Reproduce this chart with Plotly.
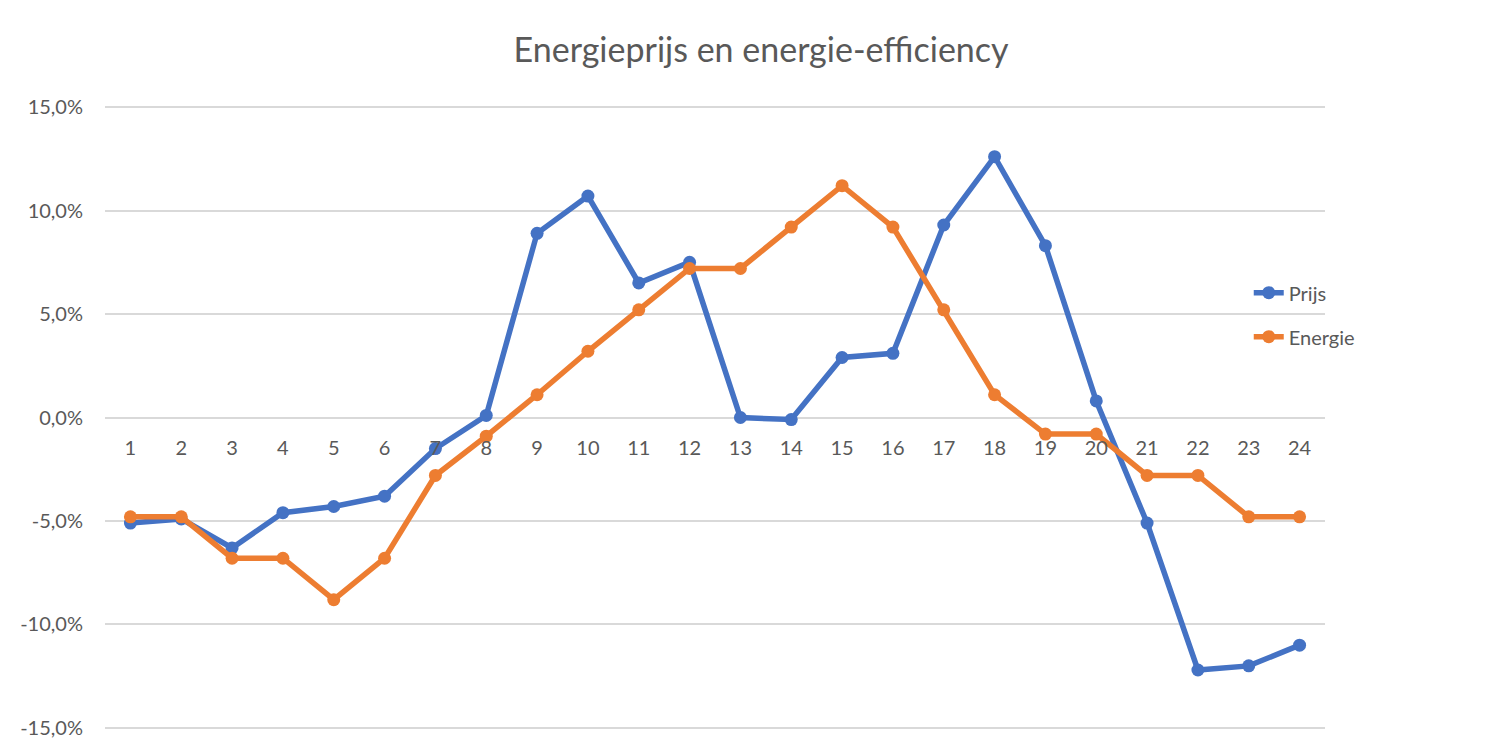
import plotly.graph_objects as go

periods = list(range(1, 25))
prijs = [-5.1, -4.9, -6.3, -4.6, -4.3, -3.8, -1.5, 0.1, 8.9, 10.7, 6.5, 7.5,
         0.0, -0.1, 2.9, 3.1, 9.3, 12.6, 8.3, 0.8, -5.1, -12.2, -12.0, -11.0]
energie = [-4.8, -4.8, -6.8, -6.8, -8.8, -6.8, -2.8, -0.9, 1.1, 3.2, 5.2, 7.2,
           7.2, 9.2, 11.2, 9.2, 5.2, 1.1, -0.8, -0.8, -2.8, -2.8, -4.8, -4.8]
y_ticks = [-15, -10, -5, 0, 5, 10, 15]
y_ticktext = ["-15,0%", "-10,0%", "-5,0%", "0,0%", "5,0%", "10,0%", "15,0%"]

BLUE = "#4472C4"
ORANGE = "#ED7D31"
GREY = "#595959"
FONT = "Lato, Open Sans, sans-serif"

fig = go.Figure()
fig.add_trace(go.Scatter(x=periods, y=prijs, name="Prijs", mode="lines+markers",
                         line=dict(color=BLUE, width=5.5), marker=dict(size=13, color=BLUE),
                         legendgroup="a"))
fig.add_trace(go.Scatter(x=periods, y=energie, name="Energie", mode="lines+markers",
                         line=dict(color=ORANGE, width=5.5), marker=dict(size=13, color=ORANGE),
                         legendgroup="b"))

fig.update_layout(
    width=1502, height=756,
    margin=dict(l=97, r=185, t=98, b=35, autoexpand=False),
    paper_bgcolor="white", plot_bgcolor="white",
    font=dict(family=FONT, color=GREY, size=20),
    title=dict(text="Energieprijs en energie-efficiency", x=0.5014, xanchor="center",
               y=0.944, yanchor="middle", font=dict(size=34, color=GREY, family=FONT)),
    legend=dict(x=0.9375, xanchor="left", y=0.665, yanchor="middle",
                font=dict(size=20, color=GREY), tracegroupgap=15,
                bgcolor="rgba(0,0,0,0)"),
    showlegend=True,
)
fig.update_xaxes(range=[0.5, 24.5], tickvals=periods, ticktext=[str(p) for p in periods],
                 showgrid=False, zeroline=False, showline=False, ticks="",
                 anchor="free", position=0.5, ticklabelstandoff=16, automargin=False,
                 tickfont=dict(size=20, color=GREY))
fig.update_yaxes(range=[-15.05, 15.05], tickvals=y_ticks, ticktext=y_ticktext,
                 showgrid=True, gridcolor="#D9D9D9", gridwidth=1.5,
                 zeroline=True, zerolinecolor="#D9D9D9", zerolinewidth=1.5,
                 showline=False, ticks="", ticklabelstandoff=21, automargin=False,
                 tickfont=dict(size=20, color=GREY))

fig.write_html("out.html")
